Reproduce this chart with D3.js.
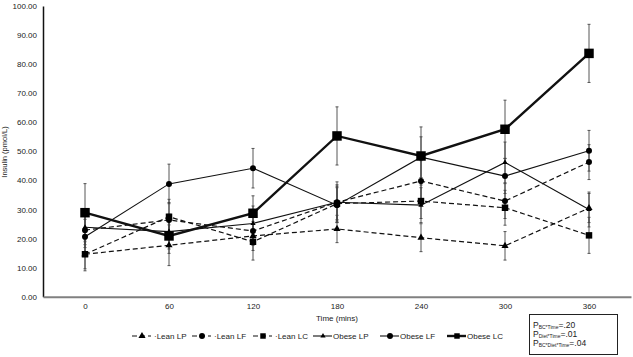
<!DOCTYPE html>
<html>
<head>
<meta charset="utf-8">
<script src="https://cdn.jsdelivr.net/npm/d3@7"></script>
<style>
body { margin: 0; background: #fff; }
text { font-family: Arial, "Liberation Sans", sans-serif; fill: #222; }
</style>
</head>
<body>
<script>
// time points (mins)
var times = [0, 60, 120, 180, 240, 300, 360];
var yTicks = [0, 10, 20, 30, 40, 50, 60, 70, 80, 90, 100];

// insulin means (pmol/L)
var leanLP   = [14.6, 17.7, 20.9, 23.3, 20.3, 17.5, 30.5];
var leanLF   = [22.9, 26.4, 22.6, 32.5, 39.8, 32.9, 46.3];
var leanLC   = [14.6, 27.5, 18.9, 32.0, 32.9, 30.6, 21.1];
var obeseLP  = [23.9, 22.4, 25.2, 32.5, 31.5, 46.2, 30.0];
var obeseLF  = [20.6, 38.8, 44.2, 31.5, 48.0, 41.5, 50.2];
var obeseLC  = [28.9, 20.9, 28.7, 55.3, 48.4, 57.6, 83.7];

// error bars (SEM)
var leanLPErr  = [5.0, 7.0, 5.0, 4.7, 4.8, 4.9, 5.0];
var leanLFErr  = [6.0, 6.0, 5.0, 6.0, 7.0, 6.0, 6.0];
var leanLCErr  = [5.7, 6.0, 6.3, 6.0, 6.0, 6.0, 6.2];
var obeseLPErr = [6.0, 6.0, 6.0, 7.0, 6.0, 7.0, 6.0];
var obeseLFErr = [6.0, 6.8, 6.8, 6.0, 7.0, 6.0, 7.0];
var obeseLCErr = [10.0, 6.0, 6.0, 10.0, 10.0, 10.0, 10.0];

var seriesNames = ["Lean LP", "Lean LF", "Lean LC", "Obese LP", "Obese LF", "Obese LC"];

var series = [
    {name: seriesNames[0], values: leanLP,  err: leanLPErr,  dash: "5,3", width: 1.2, symbol: d3.symbolTriangle, size: 22},
    {name: seriesNames[1], values: leanLF,  err: leanLFErr,  dash: "5,3", width: 1.2, symbol: d3.symbolCircle,   size: 28},
    {name: seriesNames[2], values: leanLC,  err: leanLCErr,  dash: "5,3", width: 1.2, symbol: d3.symbolSquare,   size: 42},
    {name: seriesNames[3], values: obeseLP, err: obeseLPErr, dash: null,  width: 1.1, symbol: d3.symbolTriangle, size: 12},
    {name: seriesNames[4], values: obeseLF, err: obeseLFErr, dash: null,  width: 1.1, symbol: d3.symbolCircle,   size: 28},
    {name: seriesNames[5], values: obeseLC, err: obeseLCErr, dash: null,  width: 2.4, symbol: d3.symbolSquare,   size: 90}
];

var width = 633;
var height = 357;
var svg = d3.select("body")
    .append("svg")
    .attr("width", width)
    .attr("height", height);

var x = d3.scalePoint()
    .domain(times)
    .range([43, 631])
    .padding(0.5);

var y = d3.scaleLinear()
    .domain([0, 100])
    .range([296.7, 6]);

// y axis
var yAxis = svg.append("g")
    .attr("transform", "translate(43,0)")
    .call(d3.axisLeft(y).tickValues(yTicks).tickSize(0).tickSizeOuter(0).tickPadding(6).tickFormat(d3.format(".2f")));
yAxis.select(".domain").attr("stroke", "#111").attr("stroke-width", 1.5);
yAxis.selectAll("text").style("font-size", "8px").attr("fill", "#222");

// x axis
var xAxis = svg.append("g")
    .attr("transform", "translate(0," + y(0) + ")")
    .call(d3.axisBottom(x).tickSize(0).tickSizeOuter(0).tickPadding(7));
xAxis.select(".domain").attr("stroke", "#808080").attr("stroke-width", 2);
xAxis.selectAll("text").style("font-size", "8px").attr("fill", "#222");

svg.append("text")
    .attr("x", 337)
    .attr("y", 321)
    .attr("text-anchor", "middle")
    .style("font-size", "8px")
    .text("Time (mins)");

svg.append("text")
    .attr("transform", "translate(7,152) rotate(-90)")
    .attr("text-anchor", "middle")
    .style("font-size", "7.5px")
    .text("Insulin (pmol/L)");

// lines
var line = d3.line()
    .x(function(d, i) { return x(times[i]); })
    .y(function(d) { return y(d); });

svg.selectAll("path.series")
    .data(series)
    .enter()
    .append("path")
    .attr("class", "series")
    .attr("d", function(d) { return line(d.values); })
    .attr("fill", "none")
    .attr("stroke", "#111")
    .attr("stroke-width", function(d) { return d.width; })
    .attr("stroke-dasharray", function(d) { return d.dash; });

// error bars
var bars = [];
series.forEach(function(s) {
    s.values.forEach(function(v, i) {
        bars.push({t: times[i], v: v, e: s.err[i]});
    });
});
var gErr = svg.append("g")
    .attr("stroke", "#444")
    .attr("stroke-width", 0.9);
gErr.selectAll("line.bar")
    .data(bars)
    .enter()
    .append("line")
    .attr("x1", function(d) { return x(d.t); })
    .attr("x2", function(d) { return x(d.t); })
    .attr("y1", function(d) { return y(d.v - d.e); })
    .attr("y2", function(d) { return y(d.v + d.e); });
gErr.selectAll("line.capTop")
    .data(bars)
    .enter()
    .append("line")
    .attr("x1", function(d) { return x(d.t) - 1.5; })
    .attr("x2", function(d) { return x(d.t) + 1.5; })
    .attr("y1", function(d) { return y(d.v + d.e); })
    .attr("y2", function(d) { return y(d.v + d.e); });
gErr.selectAll("line.capBot")
    .data(bars)
    .enter()
    .append("line")
    .attr("x1", function(d) { return x(d.t) - 1.5; })
    .attr("x2", function(d) { return x(d.t) + 1.5; })
    .attr("y1", function(d) { return y(d.v - d.e); })
    .attr("y2", function(d) { return y(d.v - d.e); });

// markers
series.forEach(function(s) {
    svg.append("g").selectAll("path")
        .data(s.values)
        .enter()
        .append("path")
        .attr("d", d3.symbol().type(s.symbol).size(s.size))
        .attr("transform", function(d, i) { return "translate(" + x(times[i]) + "," + y(d) + ")"; })
        .attr("fill", "#000");
});

// legend
var legendX = [132, 192, 253, 313, 380, 447];
var legend = svg.selectAll("g.legend")
    .data(series)
    .enter()
    .append("g")
    .attr("class", "legend")
    .attr("transform", function(d, i) { return "translate(" + legendX[i] + ",336)"; });
legend.append("line")
    .attr("x1", 0)
    .attr("x2", 19)
    .attr("stroke", "#111")
    .attr("stroke-width", function(d) { return d.width; })
    .attr("stroke-dasharray", function(d) { return d.dash; });
legend.append("path")
    .attr("d", function(d) { return d3.symbol().type(d.symbol).size(Math.min(d.size, 30))(); })
    .attr("transform", "translate(10,0)")
    .attr("fill", "#000");
legend.append("text")
    .attr("x", function(d) { return d.dash ? 22 : 20; })
    .attr("dy", "0.35em")
    .style("font-size", "8px")
    .text(function(d) { return (d.dash ? "\u00b7" : "") + d.name; });

// p-value box
var pLabels = ["BC*Time", "Diet*Time", "BC*Diet*Time"];
var pValues = [".20", ".01", ".04"];
svg.append("rect")
    .attr("x", 529.5)
    .attr("y", 314.5)
    .attr("width", 88)
    .attr("height", 40)
    .attr("fill", "#fff")
    .attr("stroke", "#222")
    .attr("stroke-width", 1);
var pText = svg.selectAll("text.pval")
    .data(pLabels)
    .enter()
    .append("text")
    .attr("class", "pval")
    .attr("x", 533)
    .attr("y", function(d, i) { return 328 + i * 9; })
    .style("font-size", "8.5px");
pText.append("tspan").text("P");
pText.append("tspan")
    .style("font-size", "5px")
    .attr("dy", 1)
    .text(function(d) { return d; });
pText.append("tspan")
    .attr("dy", -1)
    .text(function(d, i) { return "=" + pValues[i]; });
</script>
</body>
</html>
